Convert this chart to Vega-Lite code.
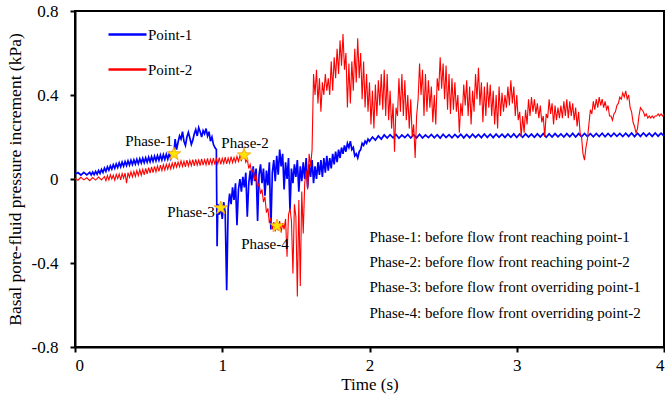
{
  "$schema": "https://vega.github.io/schema/vega-lite/v6.json",
  "width": 589,
  "height": 336,
  "autosize": {"type": "none"},
  "padding": {"left": 75, "top": 11, "right": 1, "bottom": 54},
  "background": "white",
  "config": {
    "view": {"stroke": "black", "strokeWidth": 2},
    "axis": {
      "grid": false,
      "domainColor": "black",
      "domainWidth": 2,
      "tickColor": "black",
      "tickWidth": 2,
      "tickSize": 5,
      "labelFont": "Liberation Serif",
      "labelFontSize": 17,
      "labelColor": "black",
      "titleFont": "Liberation Serif",
      "titleFontSize": 17,
      "titleFontWeight": "normal",
      "titleColor": "black"
    }
  },
  "datasets": {
    "p1": [
      {"t":0,"v":0.022},{"t":0.02,"v":0.031},{"t":0.04,"v":0.019},{"t":0.06,"v":0.032},{"t":0.08,"v":0.020},
      {"t":0.10,"v":0.032},{"t":0.11,"v":0.019},{"t":0.12,"v":0.033},{"t":0.13,"v":0.021},{"t":0.14,"v":0.036},{"t":0.15,"v":0.023},{"t":0.16,"v":0.040},{"t":0.17,"v":0.027},{"t":0.18,"v":0.046},{"t":0.19,"v":0.031},
      {"t":0.20,"v":0.052},{"t":0.21,"v":0.036},{"t":0.22,"v":0.058},{"t":0.23,"v":0.042},{"t":0.24,"v":0.063},{"t":0.25,"v":0.047},{"t":0.26,"v":0.068},{"t":0.27,"v":0.051},{"t":0.28,"v":0.072},{"t":0.29,"v":0.055},
      {"t":0.30,"v":0.077},{"t":0.31,"v":0.058},{"t":0.32,"v":0.080},{"t":0.33,"v":0.061},{"t":0.34,"v":0.083},{"t":0.35,"v":0.064},{"t":0.36,"v":0.086},{"t":0.37,"v":0.066},{"t":0.38,"v":0.089},{"t":0.39,"v":0.069},
      {"t":0.40,"v":0.091},{"t":0.41,"v":0.071},{"t":0.42,"v":0.094},{"t":0.43,"v":0.073},{"t":0.44,"v":0.096},{"t":0.45,"v":0.076},{"t":0.46,"v":0.099},{"t":0.47,"v":0.078},{"t":0.48,"v":0.101},{"t":0.49,"v":0.080},
      {"t":0.50,"v":0.104},{"t":0.51,"v":0.082},{"t":0.52,"v":0.106},{"t":0.53,"v":0.084},{"t":0.54,"v":0.109},{"t":0.55,"v":0.087},{"t":0.56,"v":0.111},{"t":0.57,"v":0.089},{"t":0.58,"v":0.114},{"t":0.59,"v":0.091},
      {"t":0.60,"v":0.116},{"t":0.61,"v":0.093},{"t":0.62,"v":0.118},{"t":0.63,"v":0.095},{"t":0.64,"v":0.121},{"t":0.65,"v":0.097},{"t":0.66,"v":0.124},{"t":0.67,"v":0.108},{"t":0.68,"v":0.190},{"t":0.69,"v":0.140},
      {"t":0.70,"v":0.175},{"t":0.71,"v":0.205},{"t":0.72,"v":0.190},
      {"t":0.73,"v":0.225},{"t":0.74,"v":0.180},{"t":0.75,"v":0.160},{"t":0.76,"v":0.200},{"t":0.77,"v":0.222},{"t":0.78,"v":0.195},{"t":0.79,"v":0.165},{"t":0.80,"v":0.185},{"t":0.81,"v":0.215},{"t":0.82,"v":0.235},
      {"t":0.83,"v":0.205},{"t":0.84,"v":0.245},{"t":0.85,"v":0.225},{"t":0.86,"v":0.200},{"t":0.87,"v":0.230},{"t":0.88,"v":0.215},{"t":0.89,"v":0.240},{"t":0.90,"v":0.205},{"t":0.91,"v":0.225},{"t":0.92,"v":0.180},
      {"t":0.93,"v":0.200},{"t":0.94,"v":0.165},{"t":0.95,"v":0.150},{"t":0.96,"v":0.140},{"t":0.965,"v":-0.320},{"t":0.97,"v":-0.120},{"t":0.98,"v":-0.170},{"t":0.99,"v":-0.130},{"t":1.00,"v":-0.190},{"t":1.01,"v":-0.110},
      {"t":1.02,"v":-0.160},{"t":1.03,"v":-0.530},{"t":1.04,"v":-0.140},{"t":1.05,"v":-0.070},{"t":1.06,"v":-0.120},{"t":1.07,"v":-0.040},{"t":1.08,"v":-0.100},{"t":1.09,"v":-0.020},{"t":1.10,"v":-0.220},{"t":1.11,"v":-0.050},
      {"t":1.12,"v":0.000},{"t":1.13,"v":-0.060},{"t":1.14,"v":0.010},{"t":1.15,"v":-0.040},{"t":1.16,"v":0.030},{"t":1.17,"v":-0.180},{"t":1.18,"v":-0.020},{"t":1.19,"v":0.040},{"t":1.20,"v":-0.030},{"t":1.21,"v":0.060},
      {"t":1.22,"v":-0.010},{"t":1.23,"v":0.050},{"t":1.24,"v":-0.200},{"t":1.25,"v":0.020},{"t":1.26,"v":0.070},{"t":1.27,"v":-0.020},{"t":1.28,"v":0.050},{"t":1.29,"v":-0.080},{"t":1.30,"v":0.040},{"t":1.31,"v":-0.030},
      {"t":1.32,"v":0.080},{"t":1.33,"v":-0.240},{"t":1.34,"v":0.030},{"t":1.35,"v":0.090},{"t":1.36,"v":-0.010},{"t":1.37,"v":0.110},{"t":1.38,"v":0.020},{"t":1.39,"v":0.140},{"t":1.40,"v":0.060},{"t":1.41,"v":0.120},
      {"t":1.42,"v":-0.050},{"t":1.43,"v":0.080},{"t":1.44,"v":0.000},{"t":1.45,"v":0.100},{"t":1.46,"v":-0.150},{"t":1.47,"v":0.050},{"t":1.48,"v":-0.020},{"t":1.49,"v":0.070},{"t":1.50,"v":0.010},{"t":1.51,"v":0.090},
      {"t":1.52,"v":-0.060},{"t":1.53,"v":0.060},{"t":1.54,"v":-0.010},{"t":1.55,"v":0.080},{"t":1.56,"v":0.000},{"t":1.57,"v":0.100},{"t":1.58,"v":-0.040},{"t":1.59,"v":0.070},{"t":1.60,"v":0.010},{"t":1.61,"v":0.090},
      {"t":1.62,"v":-0.020},{"t":1.63,"v":0.060},{"t":1.64,"v":0.000},{"t":1.65,"v":0.080},{"t":1.66,"v":0.020},{"t":1.67,"v":0.090},{"t":1.68,"v":0.010},{"t":1.69,"v":0.100},{"t":1.70,"v":0.030},{"t":1.71,"v":0.110},
      {"t":1.72,"v":0.040},{"t":1.73,"v":0.100},{"t":1.74,"v":0.050},{"t":1.75,"v":0.120},{"t":1.76,"v":0.070},{"t":1.77,"v":0.130},{"t":1.78,"v":0.080},{"t":1.79,"v":0.140},{"t":1.80,"v":0.100},{"t":1.81,"v":0.150},
      {"t":1.82,"v":0.120},{"t":1.83,"v":0.160},{"t":1.84,"v":0.130},{"t":1.85,"v":0.170},{"t":1.86,"v":0.150},{"t":1.87,"v":0.180},{"t":1.88,"v":0.140},{"t":1.89,"v":0.150},{"t":1.90,"v":0.110},{"t":1.91,"v":0.120},
      {"t":1.92,"v":0.100},{"t":1.93,"v":0.130},{"t":1.94,"v":0.140},{"t":1.95,"v":0.170},{"t":1.96,"v":0.160},{"t":1.97,"v":0.180},{"t":1.98,"v":0.170},{"t":1.99,"v":0.190},{"t":2.00,"v":0.180},{"t":2.02,"v":0.200},
      {"t":2.04,"v":0.185},{"t":2.06,"v":0.205},{"t":2.08,"v":0.190},{"t":2.10,"v":0.210},{"t":2.12,"v":0.195},{"t":2.14,"v":0.211},{"t":2.16,"v":0.196},{"t":2.18,"v":0.212},{"t":2.20,"v":0.194},{"t":2.22,"v":0.210},
      {"t":2.24,"v":0.197},{"t":2.26,"v":0.212},{"t":2.28,"v":0.195},{"t":2.30,"v":0.211},{"t":2.32,"v":0.196},{"t":2.34,"v":0.213},{"t":2.36,"v":0.195},{"t":2.38,"v":0.210},{"t":2.40,"v":0.197},{"t":2.42,"v":0.212},
      {"t":2.44,"v":0.196},{"t":2.46,"v":0.211},{"t":2.48,"v":0.195},{"t":2.50,"v":0.213},{"t":2.52,"v":0.197},{"t":2.54,"v":0.211},{"t":2.56,"v":0.196},{"t":2.58,"v":0.212},{"t":2.60,"v":0.198},{"t":2.62,"v":0.213},
      {"t":2.64,"v":0.196},{"t":2.66,"v":0.212},{"t":2.68,"v":0.197},{"t":2.70,"v":0.213},{"t":2.72,"v":0.198},{"t":2.74,"v":0.212},{"t":2.76,"v":0.197},{"t":2.78,"v":0.214},{"t":2.80,"v":0.198},{"t":2.82,"v":0.213},
      {"t":2.84,"v":0.197},{"t":2.86,"v":0.214},{"t":2.88,"v":0.199},{"t":2.90,"v":0.213},{"t":2.92,"v":0.198},{"t":2.94,"v":0.214},{"t":2.96,"v":0.199},{"t":2.98,"v":0.215},{"t":3.00,"v":0.198},{"t":3.02,"v":0.214},
      {"t":3.04,"v":0.199},{"t":3.06,"v":0.215},{"t":3.08,"v":0.200},{"t":3.10,"v":0.214},{"t":3.12,"v":0.199},{"t":3.14,"v":0.215},{"t":3.16,"v":0.200},{"t":3.18,"v":0.216},{"t":3.20,"v":0.199},{"t":3.22,"v":0.215},
      {"t":3.24,"v":0.200},{"t":3.26,"v":0.216},{"t":3.28,"v":0.201},{"t":3.30,"v":0.215},{"t":3.32,"v":0.200},{"t":3.34,"v":0.216},{"t":3.36,"v":0.201},{"t":3.38,"v":0.217},{"t":3.40,"v":0.200},{"t":3.42,"v":0.216},
      {"t":3.44,"v":0.201},{"t":3.46,"v":0.217},{"t":3.48,"v":0.202},{"t":3.50,"v":0.216},{"t":3.52,"v":0.201},{"t":3.54,"v":0.217},{"t":3.56,"v":0.202},{"t":3.58,"v":0.218},{"t":3.60,"v":0.201},{"t":3.62,"v":0.217},
      {"t":3.64,"v":0.202},{"t":3.66,"v":0.218},{"t":3.68,"v":0.203},{"t":3.70,"v":0.217},{"t":3.72,"v":0.202},{"t":3.74,"v":0.218},{"t":3.76,"v":0.203},{"t":3.78,"v":0.219},{"t":3.80,"v":0.202},{"t":3.82,"v":0.218},
      {"t":3.84,"v":0.203},{"t":3.86,"v":0.219},{"t":3.88,"v":0.204},{"t":3.90,"v":0.218},{"t":3.92,"v":0.203},{"t":3.94,"v":0.219},{"t":3.96,"v":0.204},{"t":3.98,"v":0.218},{"t":4.00,"v":0.204}
    ],
    "p2": [
      {"t":0,"v":0.004},{"t":0.02,"v":-0.006},{"t":0.04,"v":0.008},{"t":0.06,"v":-0.004},{"t":0.08,"v":0.006},{"t":0.10,"v":-0.008},{"t":0.12,"v":0.007},{"t":0.14,"v":-0.005},{"t":0.16,"v":0.009},{"t":0.18,"v":-0.004},
      {"t":0.20,"v":0.012},{"t":0.21,"v":-0.008},{"t":0.22,"v":0.016},{"t":0.23,"v":-0.004},{"t":0.24,"v":0.020},{"t":0.25,"v":0.000},{"t":0.26,"v":0.018},{"t":0.27,"v":-0.006},{"t":0.28,"v":0.022},{"t":0.29,"v":0.002},
      {"t":0.30,"v":0.024},{"t":0.31,"v":-0.004},{"t":0.32,"v":0.026},{"t":0.33,"v":0.004},{"t":0.34,"v":0.028},{"t":0.35,"v":-0.020},{"t":0.36,"v":0.030},{"t":0.37,"v":0.008},{"t":0.38,"v":0.034},{"t":0.39,"v":0.010},
      {"t":0.40,"v":0.036},{"t":0.41,"v":0.012},{"t":0.42,"v":0.040},{"t":0.43,"v":0.016},{"t":0.44,"v":0.044},{"t":0.45,"v":0.018},{"t":0.46,"v":0.046},{"t":0.47,"v":0.020},{"t":0.48,"v":0.050},{"t":0.49,"v":0.024},
      {"t":0.50,"v":0.054},{"t":0.51,"v":0.028},{"t":0.52,"v":0.058},{"t":0.53,"v":0.030},{"t":0.54,"v":0.060},{"t":0.55,"v":0.034},{"t":0.56,"v":0.062},{"t":0.57,"v":0.036},{"t":0.58,"v":0.066},{"t":0.59,"v":0.040},
      {"t":0.60,"v":0.068},{"t":0.61,"v":0.042},{"t":0.62,"v":0.070},{"t":0.63,"v":0.046},{"t":0.64,"v":0.072},{"t":0.65,"v":0.048},{"t":0.66,"v":0.076},{"t":0.67,"v":0.052},{"t":0.68,"v":0.082},{"t":0.69,"v":0.056},
      {"t":0.70,"v":0.080},{"t":0.71,"v":0.058},{"t":0.72,"v":0.086},{"t":0.73,"v":0.060},{"t":0.74,"v":0.084},{"t":0.75,"v":0.058},{"t":0.76,"v":0.090},{"t":0.77,"v":0.062},{"t":0.78,"v":0.088},{"t":0.79,"v":0.064},
      {"t":0.80,"v":0.092},{"t":0.81,"v":0.062},{"t":0.82,"v":0.094},{"t":0.83,"v":0.066},{"t":0.84,"v":0.090},{"t":0.85,"v":0.064},{"t":0.86,"v":0.096},{"t":0.87,"v":0.066},{"t":0.88,"v":0.092},{"t":0.89,"v":0.068},
      {"t":0.90,"v":0.098},{"t":0.91,"v":0.066},{"t":0.92,"v":0.094},{"t":0.93,"v":0.070},{"t":0.94,"v":0.100},{"t":0.95,"v":0.068},{"t":0.96,"v":0.096},{"t":0.97,"v":0.072},{"t":0.98,"v":0.102},{"t":0.99,"v":0.070},
      {"t":1.00,"v":0.098},{"t":1.01,"v":0.074},{"t":1.02,"v":0.104},{"t":1.03,"v":0.072},{"t":1.04,"v":0.100},{"t":1.05,"v":0.076},{"t":1.06,"v":0.106},{"t":1.07,"v":0.078},{"t":1.08,"v":0.102},{"t":1.09,"v":0.080},
      {"t":1.10,"v":0.108},{"t":1.11,"v":0.084},{"t":1.12,"v":0.110},{"t":1.13,"v":0.090},{"t":1.14,"v":0.116},{"t":1.15,"v":0.112},{"t":1.16,"v":0.080},{"t":1.17,"v":0.095},{"t":1.18,"v":0.050},{"t":1.19,"v":0.070},
      {"t":1.20,"v":0.030},{"t":1.21,"v":0.045},{"t":1.22,"v":0.000},{"t":1.23,"v":0.015},{"t":1.24,"v":-0.040},{"t":1.25,"v":-0.020},{"t":1.26,"v":-0.070},{"t":1.27,"v":-0.050},{"t":1.28,"v":-0.110},{"t":1.29,"v":-0.085},
      {"t":1.30,"v":-0.160},{"t":1.31,"v":-0.140},{"t":1.32,"v":-0.210},{"t":1.33,"v":-0.185},{"t":1.34,"v":-0.240},{"t":1.35,"v":-0.205},{"t":1.36,"v":-0.250},{"t":1.37,"v":-0.215},{"t":1.38,"v":-0.245},{"t":1.39,"v":-0.200},
      {"t":1.40,"v":-0.255},{"t":1.41,"v":-0.210},{"t":1.42,"v":-0.240},{"t":1.43,"v":-0.190},{"t":1.44,"v":-0.370},{"t":1.45,"v":-0.170},{"t":1.46,"v":-0.140},{"t":1.47,"v":-0.200},{"t":1.48,"v":-0.450},{"t":1.49,"v":-0.120},
      {"t":1.50,"v":-0.180},{"t":1.51,"v":-0.560},{"t":1.52,"v":-0.100},{"t":1.53,"v":-0.510},{"t":1.54,"v":-0.060},{"t":1.55,"v":-0.260},{"t":1.56,"v":-0.020},{"t":1.57,"v":0.040},{"t":1.58,"v":-0.050},{"t":1.59,"v":0.120},
      {"t":1.60,"v":0.060},{"t":1.61,"v":0.140},{"t":1.62,"v":0.500},{"t":1.63,"v":0.400},{"t":1.64,"v":0.520},{"t":1.65,"v":0.360},{"t":1.66,"v":0.480},{"t":1.67,"v":0.320},{"t":1.68,"v":0.460},{"t":1.69,"v":0.400},
      {"t":1.70,"v":0.500},{"t":1.71,"v":0.420},{"t":1.72,"v":0.480},{"t":1.73,"v":0.400},{"t":1.74,"v":0.560},{"t":1.75,"v":0.420},{"t":1.76,"v":0.580},{"t":1.77,"v":0.480},{"t":1.78,"v":0.620},{"t":1.79,"v":0.500},
      {"t":1.80,"v":0.660},{"t":1.81,"v":0.540},{"t":1.82,"v":0.690},{"t":1.83,"v":0.520},{"t":1.84,"v":0.600},{"t":1.85,"v":0.340},{"t":1.86,"v":0.550},{"t":1.87,"v":0.360},{"t":1.88,"v":0.560},{"t":1.89,"v":0.420},
      {"t":1.90,"v":0.620},{"t":1.91,"v":0.460},{"t":1.92,"v":0.670},{"t":1.93,"v":0.480},{"t":1.94,"v":0.600},{"t":1.95,"v":0.380},{"t":1.96,"v":0.560},{"t":1.97,"v":0.340},{"t":1.98,"v":0.500},{"t":1.99,"v":0.320},
      {"t":2.00,"v":0.460},{"t":2.01,"v":0.260},{"t":2.02,"v":0.420},{"t":2.03,"v":0.240},{"t":2.04,"v":0.450},{"t":2.05,"v":0.300},{"t":2.06,"v":0.470},{"t":2.07,"v":0.350},{"t":2.08,"v":0.500},{"t":2.09,"v":0.330},
      {"t":2.10,"v":0.520},{"t":2.11,"v":0.300},{"t":2.12,"v":0.500},{"t":2.13,"v":0.280},{"t":2.14,"v":0.420},{"t":2.15,"v":0.240},{"t":2.16,"v":0.360},{"t":2.17,"v":0.130},{"t":2.18,"v":0.340},{"t":2.19,"v":0.300},
      {"t":2.20,"v":0.480},{"t":2.21,"v":0.320},{"t":2.22,"v":0.500},{"t":2.23,"v":0.300},{"t":2.24,"v":0.470},{"t":2.25,"v":0.280},{"t":2.26,"v":0.400},{"t":2.27,"v":0.240},{"t":2.28,"v":0.380},{"t":2.29,"v":0.200},
      {"t":2.30,"v":0.260},{"t":2.31,"v":0.100},{"t":2.32,"v":0.300},{"t":2.33,"v":0.380},{"t":2.34,"v":0.550},{"t":2.35,"v":0.400},{"t":2.36,"v":0.520},{"t":2.37,"v":0.300},{"t":2.38,"v":0.500},{"t":2.39,"v":0.320},
      {"t":2.40,"v":0.470},{"t":2.41,"v":0.340},{"t":2.42,"v":0.440},{"t":2.43,"v":0.270},{"t":2.44,"v":0.400},{"t":2.45,"v":0.260},{"t":2.46,"v":0.480},{"t":2.47,"v":0.420},{"t":2.48,"v":0.580},{"t":2.49,"v":0.430},
      {"t":2.50,"v":0.550},{"t":2.51,"v":0.380},{"t":2.52,"v":0.540},{"t":2.53,"v":0.330},{"t":2.54,"v":0.500},{"t":2.55,"v":0.310},{"t":2.56,"v":0.480},{"t":2.57,"v":0.330},{"t":2.58,"v":0.460},{"t":2.59,"v":0.320},
      {"t":2.60,"v":0.400},{"t":2.61,"v":0.220},{"t":2.62,"v":0.360},{"t":2.63,"v":0.300},{"t":2.64,"v":0.450},{"t":2.65,"v":0.350},{"t":2.66,"v":0.470},{"t":2.67,"v":0.300},{"t":2.68,"v":0.440},{"t":2.69,"v":0.260},
      {"t":2.70,"v":0.420},{"t":2.71,"v":0.320},{"t":2.72,"v":0.500},{"t":2.73,"v":0.380},{"t":2.74,"v":0.530},{"t":2.75,"v":0.350},{"t":2.76,"v":0.460},{"t":2.77,"v":0.270},{"t":2.78,"v":0.440},{"t":2.79,"v":0.300},
      {"t":2.80,"v":0.460},{"t":2.81,"v":0.340},{"t":2.82,"v":0.450},{"t":2.83,"v":0.300},{"t":2.84,"v":0.420},{"t":2.85,"v":0.260},{"t":2.86,"v":0.400},{"t":2.87,"v":0.240},{"t":2.88,"v":0.440},{"t":2.89,"v":0.300},
      {"t":2.90,"v":0.410},{"t":2.91,"v":0.320},{"t":2.92,"v":0.400},{"t":2.93,"v":0.340},{"t":2.94,"v":0.440},{"t":2.95,"v":0.350},{"t":2.96,"v":0.470},{"t":2.97,"v":0.360},{"t":2.98,"v":0.440},{"t":2.99,"v":0.300},
      {"t":3.00,"v":0.400},{"t":3.01,"v":0.280},{"t":3.02,"v":0.320},{"t":3.03,"v":0.200},{"t":3.04,"v":0.300},{"t":3.05,"v":0.220},{"t":3.06,"v":0.330},{"t":3.07,"v":0.260},{"t":3.08,"v":0.380},{"t":3.09,"v":0.300},
      {"t":3.10,"v":0.390},{"t":3.11,"v":0.320},{"t":3.12,"v":0.380},{"t":3.13,"v":0.310},{"t":3.14,"v":0.360},{"t":3.15,"v":0.290},{"t":3.16,"v":0.350},{"t":3.17,"v":0.270},{"t":3.18,"v":0.300},{"t":3.19,"v":0.200},
      {"t":3.20,"v":0.310},{"t":3.21,"v":0.290},{"t":3.22,"v":0.380},{"t":3.23,"v":0.310},{"t":3.24,"v":0.360},{"t":3.25,"v":0.260},{"t":3.26,"v":0.350},{"t":3.27,"v":0.280},{"t":3.28,"v":0.340},{"t":3.29,"v":0.290},
      {"t":3.30,"v":0.350},{"t":3.31,"v":0.290},{"t":3.32,"v":0.370},{"t":3.33,"v":0.300},{"t":3.34,"v":0.380},{"t":3.35,"v":0.290},{"t":3.36,"v":0.370},{"t":3.37,"v":0.300},{"t":3.38,"v":0.360},{"t":3.39,"v":0.280},
      {"t":3.40,"v":0.340},{"t":3.41,"v":0.250},{"t":3.42,"v":0.320},{"t":3.43,"v":0.220},{"t":3.44,"v":0.200},{"t":3.45,"v":0.120},{"t":3.46,"v":0.090},{"t":3.47,"v":0.150},{"t":3.48,"v":0.190},{"t":3.49,"v":0.260},
      {"t":3.50,"v":0.330},{"t":3.51,"v":0.310},{"t":3.52,"v":0.370},{"t":3.53,"v":0.330},{"t":3.54,"v":0.380},{"t":3.55,"v":0.340},{"t":3.56,"v":0.390},{"t":3.57,"v":0.350},{"t":3.58,"v":0.380},{"t":3.59,"v":0.340},
      {"t":3.60,"v":0.370},{"t":3.61,"v":0.330},{"t":3.62,"v":0.350},{"t":3.63,"v":0.300},{"t":3.64,"v":0.300},{"t":3.65,"v":0.280},{"t":3.66,"v":0.310},{"t":3.67,"v":0.320},{"t":3.68,"v":0.350},{"t":3.69,"v":0.360},
      {"t":3.70,"v":0.390},{"t":3.71,"v":0.380},{"t":3.72,"v":0.410},{"t":3.73,"v":0.390},{"t":3.74,"v":0.420},{"t":3.75,"v":0.380},{"t":3.76,"v":0.400},{"t":3.77,"v":0.340},{"t":3.78,"v":0.320},{"t":3.79,"v":0.270},
      {"t":3.80,"v":0.250},{"t":3.81,"v":0.220},{"t":3.82,"v":0.240},{"t":3.83,"v":0.300},{"t":3.84,"v":0.340},{"t":3.85,"v":0.330},{"t":3.86,"v":0.320},{"t":3.87,"v":0.300},{"t":3.88,"v":0.310},{"t":3.89,"v":0.290},
      {"t":3.90,"v":0.300},{"t":3.91,"v":0.290},{"t":3.92,"v":0.300},{"t":3.93,"v":0.290},{"t":3.94,"v":0.300},{"t":3.95,"v":0.300},{"t":3.96,"v":0.310},{"t":3.97,"v":0.300},{"t":3.98,"v":0.310},{"t":3.99,"v":0.300},
      {"t":4.00,"v":0.310}
    ],
    "stars": [
      {"t":0.672,"v":0.119},
      {"t":1.148,"v":0.114},
      {"t":0.99,"v":-0.138},
      {"t":1.372,"v":-0.224}
    ],
    "phaseLabels": [
      {"t":0.503,"v":0.181,"label":"Phase-1"},
      {"t":1.155,"v":0.171,"label":"Phase-2"},
      {"t":0.788,"v":-0.157,"label":"Phase-3"},
      {"t":1.29,"v":-0.31,"label":"Phase-4"}
    ],
    "notes": [
      {"t":2.0,"v":-0.276,"label":"Phase-1: before flow front reaching point-1"},
      {"t":2.0,"v":-0.395,"label":"Phase-2: before flow front reaching point-2"},
      {"t":2.0,"v":-0.514,"label":"Phase-3: before flow front overriding point-1"},
      {"t":2.0,"v":-0.638,"label":"Phase-4: before flow front overriding point-2"}
    ]
  },
  "encoding": {
    "x": {
      "field": "t",
      "type": "quantitative",
      "scale": {"domain": [0, 4], "nice": false},
      "axis": {
        "values": [0, 1, 2, 3, 4],
        "title": "Time (s)",
        "labelPadding": 5,
        "titlePadding": 3
      }
    },
    "y": {
      "field": "v",
      "type": "quantitative",
      "scale": {"domain": [-0.8, 0.8], "nice": false},
      "axis": {
        "values": [-0.8, -0.4, 0, 0.4, 0.8],
        "labelExpr": "datum.value == 0 ? '0' : (datum.value < 0 ? '-' : '') + format(abs(datum.value), '.1f')",
        "labelPadding": 12,
        "title": "Basal pore-fluid pressure increment (kPa)",
        "titleFontSize": 17.5,
        "titleX": -60,
        "titleAngle": 270,
        "titleAlign": "center",
        "titleBaseline": "middle",
        "encode": {"title": {"update": {"y": {"value": 185}}}}
      }
    }
  },
  "layer": [
    {
      "data": {"name": "p1"},
      "mark": {"type": "line", "strokeWidth": 1.7, "interpolate": "linear"},
      "encoding": {
        "color": {
          "datum": "Point-1",
          "type": "nominal",
          "scale": {"domain": ["Point-1", "Point-2"], "range": ["#0000FF", "#FF0000"]},
          "legend": {
            "orient": "none",
            "legendX": 32,
            "legendY": 3,
            "title": null,
            "symbolType": "stroke",
            "symbolSize": 1444,
            "symbolStrokeWidth": 2.5,
            "labelFont": "Liberation Serif",
            "labelFontSize": 15,
            "labelColor": "black",
            "labelOffset": 0,
            "rowPadding": 6,
            "padding": 0
          }
        }
      }
    },
    {
      "data": {"name": "p2"},
      "mark": {"type": "line", "strokeWidth": 1.1, "interpolate": "linear"},
      "encoding": {
        "color": {"datum": "Point-2", "type": "nominal"}
      }
    },
    {
      "data": {"name": "stars"},
      "mark": {
        "type": "point",
        "shape": "M0,-1L0.235,-0.324L0.951,-0.309L0.38,0.124L0.588,0.809L0,0.4L-0.588,0.809L-0.38,0.124L-0.951,-0.309L-0.235,-0.324Z",
        "filled": true,
        "fill": "#FFE400",
        "stroke": "#F39C12",
        "strokeWidth": 0.8,
        "opacity": 1,
        "size": 200
      }
    },
    {
      "data": {"name": "phaseLabels"},
      "mark": {
        "type": "text",
        "font": "Liberation Serif",
        "fontSize": 15,
        "color": "black",
        "align": "center",
        "baseline": "middle"
      },
      "encoding": {"text": {"field": "label"}}
    },
    {
      "data": {"name": "notes"},
      "mark": {
        "type": "text",
        "font": "Liberation Serif",
        "fontSize": 15,
        "color": "black",
        "align": "left",
        "baseline": "middle"
      },
      "encoding": {"text": {"field": "label"}}
    }
  ]
}
